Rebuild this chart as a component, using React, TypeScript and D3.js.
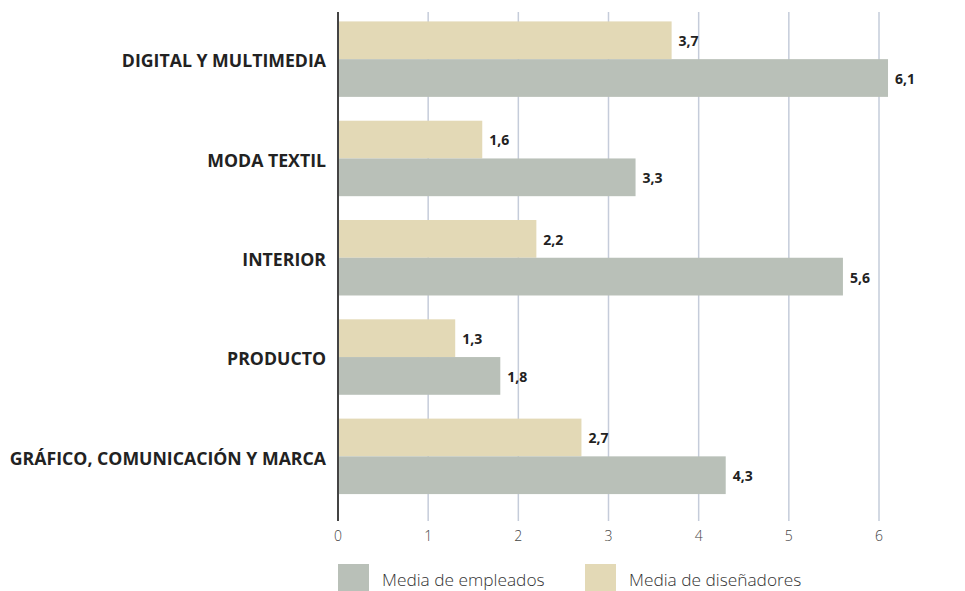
import React from "react";
import * as d3 from "d3";

const categories = [
  "DIGITAL Y MULTIMEDIA",
  "MODA TEXTIL",
  "INTERIOR",
  "PRODUCTO",
  "GRÁFICO, COMUNICACIÓN Y MARCA",
];
const disenadores = [3.7, 1.6, 2.2, 1.3, 2.7];
const empleados = [6.1, 3.3, 5.6, 1.8, 4.3];
const ticks = [0, 1, 2, 3, 4, 5, 6];
const legendLabels = ["Media de empleados", "Media de diseñadores"];

const W = 965;
const H = 591;
const BEIGE = "#e3d9b6";
const GRAY = "#b9c0b8";
const fmt = (v: number) => v.toFixed(1).replace(".", ",");

export default function App() {
  const x = d3.scaleLinear().domain([0, 6]).range([338, 879]);
  const y = d3.scaleBand<string>().domain(categories).range([9.5, 506]).paddingInner(0.24).paddingOuter(0.12);
  const bh = y.bandwidth() / 2;
  const font = "'Open Sans', sans-serif";
  return (
    <svg width={W} height={H} style={{ position: "absolute", left: 0, top: 0, display: "block" }}>
      {ticks.map((t) => (
        <g key={t}>
          {t > 0 && <line x1={x(t)} x2={x(t)} y1={12} y2={521} stroke="#c5ccda" strokeWidth={1.5} />}
          <text x={x(t)} y={541} textAnchor="middle" fontFamily={font} fontWeight={300} fontSize={14} fill="#444">
            {t}
          </text>
        </g>
      ))}
      {categories.map((c, i) => {
        const y0 = y(c)!;
        return (
          <g key={c}>
            <rect x={x(0)} y={y0} width={x(disenadores[i]) - x(0)} height={bh} fill={BEIGE} />
            <rect x={x(0)} y={y0 + bh} width={x(empleados[i]) - x(0)} height={bh} fill={GRAY} />
            <text x={x(disenadores[i]) + 7} y={y0 + bh / 2 + 1} dy="0.35em" fontFamily={font} fontWeight={700} fontSize={14} fill="#222">
              {fmt(disenadores[i])}
            </text>
            <text x={x(empleados[i]) + 7} y={y0 + bh * 1.5 + 1} dy="0.35em" fontFamily={font} fontWeight={700} fontSize={14} fill="#222">
              {fmt(empleados[i])}
            </text>
            <text x={326} y={y0 + bh + 2} dy="0.35em" textAnchor="end" fontFamily={font} fontWeight={700} fontSize={17.7} fill="#222">
              {c}
            </text>
          </g>
        );
      })}
      <line x1={x(0)} x2={x(0)} y1={12} y2={521} stroke="#444" strokeWidth={2} />
      <rect x={338} y={564} width={31} height={30} fill={GRAY} />
      <text x={382} y={580} dy="0.35em" fontFamily={font} fontWeight={300} fontSize={17.3} fill="#333">
        {legendLabels[0]}
      </text>
      <rect x={585} y={564} width={31} height={30} fill={BEIGE} />
      <text x={629} y={580} dy="0.35em" fontFamily={font} fontWeight={300} fontSize={17.3} fill="#333">
        {legendLabels[1]}
      </text>
    </svg>
  );
}
